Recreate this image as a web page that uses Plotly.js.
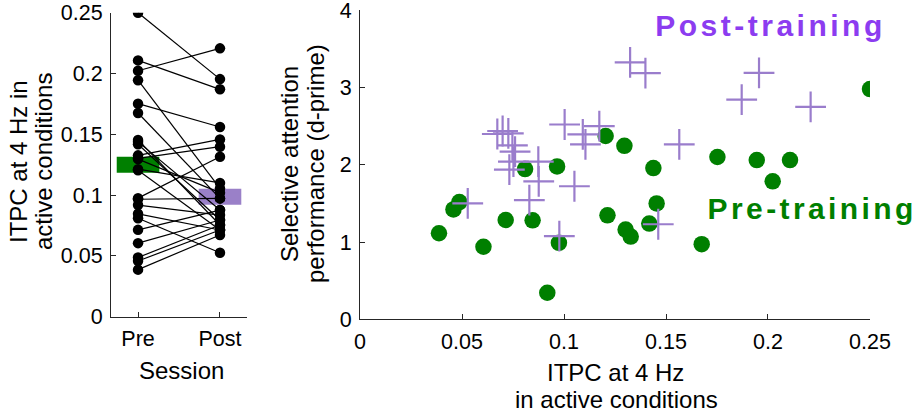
<!DOCTYPE html>
<html><head><meta charset="utf-8">
<script src="https://cdn.plot.ly/plotly-3.0.1.min.js"></script>
<style>
body{margin:0;background:#fff}
</style>
</head><body><div id="plot" style="width:918px;height:413px"></div>
<script>
// ---- Left panel: ITPC per session (paired subjects) ----
const sessions = ['Pre', 'Post'];
const sessionPos = [1, 2];
const preITPC  = [0.25, 0.2108, 0.2023, 0.1945, 0.1752, 0.1675, 0.1454, 0.1438, 0.1418, 0.1327, 0.1302, 0.1296,
                  0.1213, 0.1204, 0.0975, 0.0966, 0.0918, 0.0846, 0.0809, 0.0714, 0.0605, 0.0487, 0.0458, 0.0387];
const postITPC = [0.1954, 0.187, 0.2207, 0.1055, 0.156, 0.0973, 0.0754, 0.0877, 0.0795, 0.1458, 0.1398, 0.102,
                  0.110, 0.0713, 0.1316, 0.0973, 0.0836, 0.0713, 0.0526, 0.0877, 0.0795, 0.0754, 0.0713, 0.0672];
const sessionMeans = [0.125, 0.0986];

// ---- Right panel: d-prime vs ITPC ----
const preScatterITPC   = [0.1204, 0.1296, 0.0809, 0.0966, 0.0487, 0.0458, 0.0387, 0.0605, 0.0714, 0.0846, 0.1213, 0.1302,
                          0.1327, 0.0975, 0.0918, 0.1438, 0.1454, 0.1418, 0.1675, 0.1752, 0.1945, 0.2023, 0.2108, 0.25];
const preScatterDprime = [2.372, 2.244, 1.944, 1.978, 1.517, 1.423, 1.115, 0.94, 1.286, 1.282, 1.346, 1.162,
                          1.072, 0.991, 0.346, 1.957, 1.50, 1.239, 0.974, 2.10, 2.06, 1.786, 2.06, 2.978];
const postScatterITPC   = [0.1324, 0.1399, 0.1956, 0.1871, 0.2209, 0.1003, 0.1173, 0.0673, 0.0699, 0.0727, 0.1092, 0.1105,
                           0.1565, 0.0747, 0.0760, 0.0752, 0.0874, 0.0732, 0.0876, 0.1051, 0.0830, 0.0528, 0.1462, 0.0977];
const postScatterDprime = [3.324, 3.183, 3.187, 2.841, 2.747, 2.52, 2.50, 2.397, 2.436, 2.405, 2.392, 2.264,
                           2.264, 2.25, 2.17, 2.04, 2.04, 1.936, 1.786, 1.722, 1.542, 1.50, 1.231, 1.077];

const itpcTicks = [0, 0.05, 0.1, 0.15, 0.2, 0.25];
const itpcTickText = ['0', '0.05', '0.1', '0.15', '0.2', '0.25'];
const dprimeTicks = [0, 1, 2, 3, 4];

const GREEN = '#007f00', PURPLE_MARK = '#9a7dcc', PURPLE_BAR = '#9a80c8', PURPLE_TXT = '#8c3cf0';
const AX = '#262626';
const FONT = 'Liberation Sans, Arial, sans-serif';
const TICK = 21.5, TITLE = 24;

// paired lines with gaps
const lx = [], ly = [];
preITPC.forEach((v, i) => { lx.push(sessionPos[0], sessionPos[1], null); ly.push(v, postITPC[i], null); });

const halfW = 0.26;
const traces = [
  {x: [sessionPos[0]-halfW, sessionPos[0]+halfW], y: [sessionMeans[0], sessionMeans[0]], mode: 'lines',
   line: {color: GREEN, width: 16}, xaxis: 'x', yaxis: 'y', hoverinfo: 'skip'},
  {x: [sessionPos[1]-halfW, sessionPos[1]+halfW], y: [sessionMeans[1], sessionMeans[1]], mode: 'lines',
   line: {color: PURPLE_BAR, width: 16}, xaxis: 'x', yaxis: 'y', hoverinfo: 'skip'},
  {x: lx, y: ly, mode: 'lines+markers', line: {color: '#000', width: 1.2},
   marker: {color: '#000', size: 10.5}, connectgaps: false, xaxis: 'x', yaxis: 'y'},
  {x: preScatterITPC, y: preScatterDprime, mode: 'markers',
   marker: {color: GREEN, size: 16.5}, xaxis: 'x2', yaxis: 'y2'},
  {x: postScatterITPC, y: postScatterDprime, mode: 'markers',
   marker: {symbol: 'cross-thin', size: 22, line: {color: PURPLE_MARK, width: 2.2}, color: PURPLE_MARK},
   xaxis: 'x2', yaxis: 'y2'}
];

const axBase = {
  showgrid: false, zeroline: false, showline: true, linecolor: AX, linewidth: 1,
  ticks: 'inside', ticklen: 5, tickcolor: AX, ticklabeloverflow: 'allow',
  tickfont: {family: FONT, size: TICK, color: '#000'}
};
const tf = {family: FONT, size: TITLE, color: '#000'};
function lbl(text, xp, yp, angle) {
  return {text: text, xref: 'paper', yref: 'paper', x: xp / 918, y: 1 - yp / 413,
          xanchor: 'center', yanchor: 'middle', showarrow: false, textangle: angle || 0, font: tf};
}

const layout = {
  width: 918, height: 413, margin: {l: 0, r: 0, t: 0, b: 0},
  paper_bgcolor: '#fff', plot_bgcolor: '#fff', showlegend: false,
  font: {family: FONT, color: '#000'},
  xaxis: Object.assign({}, axBase, {domain: [0.1209, 0.2691], range: [0.67, 2.33],
    tickvals: sessionPos, ticktext: sessions, anchor: 'y', ticklabelstandoff: 3}),
  yaxis: Object.assign({}, axBase, {domain: [0.2332, 0.9692], range: [0, 0.25],
    tickvals: itpcTicks, ticktext: itpcTickText, anchor: 'x', ticklabelstandoff: 3}),
  xaxis2: Object.assign({}, axBase, {domain: [0.3922, 0.9477], range: [0, 0.25], anchor: 'y2',
    tickvals: itpcTicks, ticktext: itpcTickText, ticklabelstandoff: 3}),
  yaxis2: Object.assign({}, axBase, {domain: [0.2264, 0.9758], range: [0, 4], anchor: 'x2',
    tickvals: dprimeTicks, ticklabelstandoff: 3}),
  annotations: [
    lbl('ITPC at 4 Hz in', 18, 162, -90),
    lbl('active conditions', 43, 162, -90),
    lbl('Session', 181, 370),
    lbl('Selective attention', 290, 164, -90),
    lbl('performance (d-prime)', 316, 164, -90),
    lbl('ITPC at 4 Hz', 615, 372),
    lbl('in active conditions', 616, 399),
    {text: '<b>Post-training</b>', xref: 'paper', yref: 'paper', x: 770 / 918, y: 1 - 26 / 413, xanchor: 'center', yanchor: 'middle',
     showarrow: false, font: {family: FONT, size: 30, color: PURPLE_TXT}},
    {text: '<b>Pre-training</b>', xref: 'paper', yref: 'paper', x: 812 / 918, y: 1 - 209 / 413, xanchor: 'center', yanchor: 'middle',
     showarrow: false, font: {family: FONT, size: 30, color: GREEN}}
  ]
};

Plotly.newPlot('plot', traces, layout, {staticPlot: true, displayModeBar: false}).then(function () {
  const txts = document.querySelectorAll('.annotation-text');
  txts.forEach(function (t) {
    const s = t.textContent;
    if (s === 'Post-training') t.style.letterSpacing = '3.5px';
    if (s === 'Pre-training') t.style.letterSpacing = '3.4px';
  });
});
</script>
</body></html>
